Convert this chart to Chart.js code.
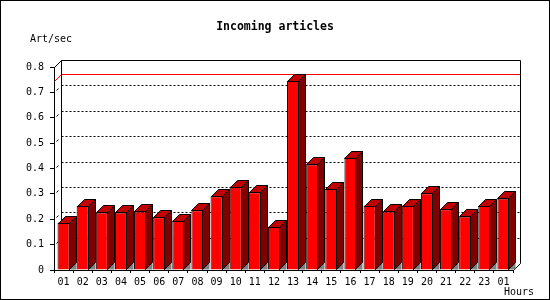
<!DOCTYPE html>
<html>
<head>
<meta charset="utf-8">
<script src="https://cdn.jsdelivr.net/npm/chart.js@4"></script>
<style>
  html, body { margin: 0; padding: 0; background: #fff; }
  #wrap { width: 550px; height: 300px; }
</style>
</head>
<body>
<div id="wrap"><canvas id="ch" width="550" height="300"></canvas></div>
<script>
// ---- dati ----
const hours = ['01','02','03','04','05','06','07','08','09','10','11','12',
               '13','14','15','16','17','18','19','20','21','22','23','01'];
const artPerSec = [0.187, 0.252, 0.227, 0.227, 0.231, 0.208, 0.195, 0.235, 0.291, 0.329, 0.306, 0.169,
                   0.746, 0.416, 0.321, 0.443, 0.254, 0.231, 0.254, 0.302, 0.239, 0.211, 0.252, 0.282];
const yTicks = [0, 0.1, 0.2, 0.3, 0.4, 0.5, 0.6, 0.7, 0.8];

const titleText = 'Incoming articles';
const yUnit = 'Art/sec';
const xUnit = 'Hours';

const MONO = '"DejaVu Sans Mono", "Liberation Mono", monospace';
const D = 7; // profondità 3D

function line(ctx, pts) {
  ctx.beginPath();
  ctx.moveTo(pts[0][0], pts[0][1]);
  for (let i = 1; i < pts.length; i++) ctx.lineTo(pts[i][0], pts[i][1]);
  ctx.stroke();
}
function poly(ctx, pts, fill) {
  ctx.beginPath();
  ctx.moveTo(pts[0][0], pts[0][1]);
  for (let i = 1; i < pts.length; i++) ctx.lineTo(pts[i][0], pts[i][1]);
  ctx.closePath();
  ctx.fillStyle = fill; ctx.fill();
  ctx.strokeStyle = '#000'; ctx.lineWidth = 1; ctx.stroke();
}

const frame3d = {
  id: 'frame3d',
  beforeDraw(chart) {
    const ctx = chart.ctx;
    ctx.save();
    ctx.fillStyle = '#fff';
    ctx.fillRect(0, 0, 550, 300);
    ctx.strokeStyle = '#000'; ctx.lineWidth = 1;
    ctx.strokeRect(0.5, 0.5, 549, 299);
    // testi
    ctx.fillStyle = '#000';
    ctx.textBaseline = 'middle';
    ctx.textAlign = 'center';
    ctx.font = 'bold 11.5px ' + MONO;
    ctx.fillText(titleText, 275, 27);
    ctx.font = '10px ' + MONO;
    ctx.textAlign = 'left';
    ctx.fillText(yUnit, 30, 39);
    ctx.fillText(xUnit, 504, 292);
    ctx.restore();
  },
  beforeDatasetsDraw(chart) {
    const ctx = chart.ctx, a = chart.chartArea, ys = chart.scales.y;
    const L = Math.round(a.left) + 0.5, R = Math.round(a.right) + 0.5;
    const T = Math.round(a.top) + 0.5, B = Math.round(a.bottom) + 0.5;
    ctx.save();
    ctx.strokeStyle = '#000'; ctx.lineWidth = 1;
    // griglia tratteggiata sulla parete di fondo
    ctx.setLineDash([2, 2]);
    yTicks.forEach(v => {
      if (v <= 0 || v >= ys.max) return;
      const y = Math.round(ys.getPixelForValue(v)) - D + 0.5;
      line(ctx, [[L + D, y], [R + D, y]]);
    });
    ctx.setLineDash([]);
    // tacche sulla parete laterale
    yTicks.forEach(v => {
      if (v <= 0 || v >= ys.max) return;
      const y = Math.round(ys.getPixelForValue(v)) + 0.5;
      line(ctx, [[L + 2, y - 2], [L + 4, y - 4]]);
    });
    // linea del massimo
    const mx = Math.max(...artPerSec);
    const ym = Math.round(ys.getPixelForValue(mx)) - D + 0.5;
    ctx.strokeStyle = '#ff0000';
    line(ctx, [[L, ym + D], [L + D, ym], [R + D, ym]]);
    // cornice di fondo
    ctx.strokeStyle = '#000';
    line(ctx, [[L, T], [L + D, T - D], [R + D, T - D], [R + D, B - D], [R, B]]);
    line(ctx, [[L + D, T - D], [L + D, B - D]]);
    ctx.restore();
  },
  afterDatasetsDraw(chart) {
    const ctx = chart.ctx;
    const meta = chart.getDatasetMeta(0);
    ctx.save();
    meta.data.forEach(el => {
      const p = el.getProps(['x', 'y', 'base', 'width'], true);
      const l = Math.round(p.x - p.width / 2) + 0.5;
      const r = Math.round(p.x + p.width / 2) - 0.5;
      const t = Math.round(p.y) + 0.5;
      const b = Math.round(p.base) - 0.5;
      // ombra a pavimento
      ctx.beginPath();
      ctx.moveTo(r, b); ctx.lineTo(r + D, b - D); ctx.lineTo(r + D, b); ctx.closePath();
      ctx.fillStyle = '#808080'; ctx.fill();
      // fianco
      poly(ctx, [[r, t], [r + D, t - D], [r + D, b - D], [r, b]], '#800000');
      // cima
      poly(ctx, [[l, t], [l + D, t - D], [r + D, t - D], [r, t]], '#c00000');
    });
    ctx.restore();
  }
};

new Chart(document.getElementById('ch'), {
  type: 'bar',
  data: {
    labels: hours,
    datasets: [{
      label: yUnit,
      data: artPerSec,
      backgroundColor: '#ff0000',
      borderColor: '#000000',
      borderWidth: 1,
      barPercentage: 0.63,
      categoryPercentage: 1
    }]
  },
  options: {
    responsive: false,
    animation: false,
    devicePixelRatio: 1,
    layout: { padding: { top: 67, right: 37, left: 0, bottom: 0 } },
    plugins: { legend: { display: false }, title: { display: false }, tooltip: { enabled: false } },
    scales: {
      x: {
        afterFit: s => { s.height = 30; },
        grid: { offset: true, drawOnChartArea: false, tickLength: 3, color: '#000' },
        border: { display: true, color: '#000' },
        ticks: { color: '#000', font: { family: MONO, size: 10 }, padding: 3, maxRotation: 0, autoSkip: false }
      },
      y: {
        min: 0, max: 0.8,
        afterFit: s => { s.width = 54; },
        afterBuildTicks: s => { s.ticks = yTicks.map(v => ({ value: v })); },
        grid: { drawOnChartArea: false, tickLength: 4, color: '#000' },
        border: { display: true, color: '#000' },
        ticks: {
          color: '#000', font: { family: MONO, size: 10 }, padding: 6,
          callback: v => v === 0 ? '0' : Number(v).toFixed(1)
        }
      }
    }
  },
  plugins: [frame3d]
});
</script>
</body>
</html>
